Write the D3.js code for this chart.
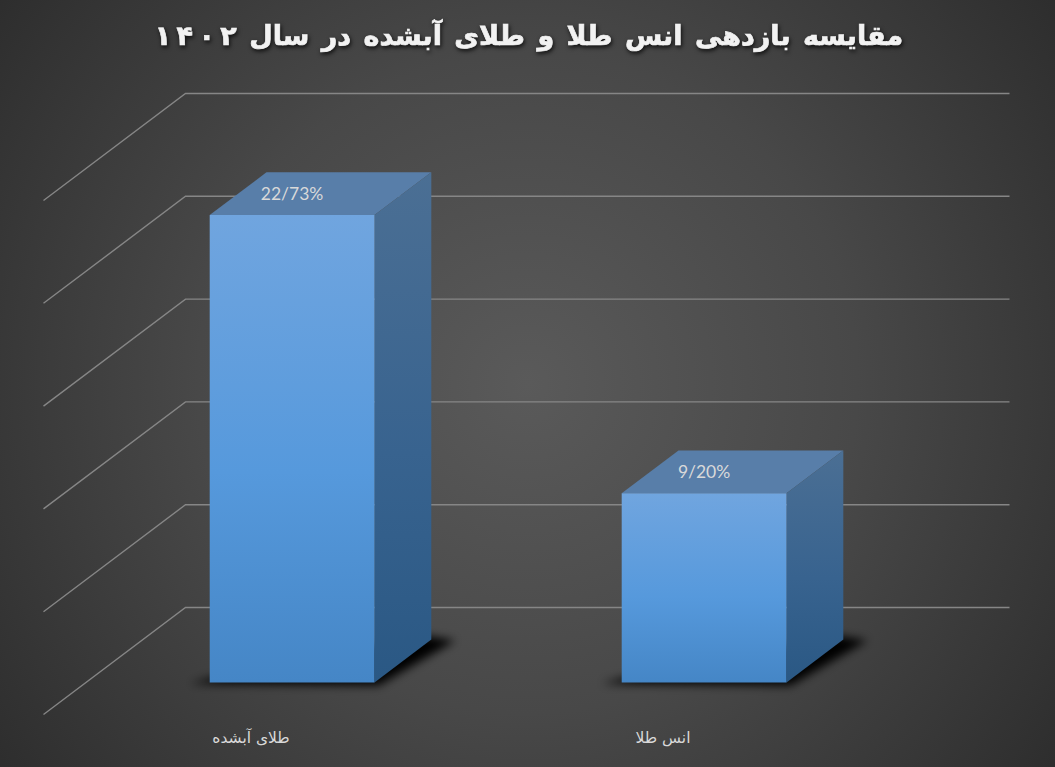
<!DOCTYPE html>
<html lang="fa">
<head>
<meta charset="utf-8">
<script src="https://cdn.jsdelivr.net/npm/d3@7/dist/d3.min.js"></script>
<style>
html,body{margin:0;padding:0;background:#3a3a3a;overflow:hidden}
svg{display:block}
</style>
</head>
<body>
<svg id="chart" width="1055" height="767"></svg>
<script>
const chartTitle = "مقایسه بازدهی انس طلا و طلای آبشده در سال \u2066۱\u2009۴\u2009۰\u2009۲\u2069";
const categories = ["طلای آبشده", "انس طلا"];
const seriesValues = [22.73, 9.20];
const valueLabels = ["22/73%", "9/20%"];
const axisDomain = [0, 25];
const tickCount = 5;

const W = 1055, H = 767;
const svg = d3.select("#chart");
const defs = svg.append("defs");

const bg = defs.append("radialGradient").attr("id", "bg")
  .attr("gradientUnits", "userSpaceOnUse")
  .attr("cx", W / 2).attr("cy", H / 2).attr("r", 660);
bg.append("stop").attr("offset", "0").attr("stop-color", "#5a5a5a");
bg.append("stop").attr("offset", "0.5").attr("stop-color", "#484848");
bg.append("stop").attr("offset", "1").attr("stop-color", "#2d2d2d");

function grad(id, a, b, c) {
  const g = defs.append("linearGradient").attr("id", id)
    .attr("x1", 0).attr("y1", 0).attr("x2", 0).attr("y2", 1);
  g.append("stop").attr("offset", "0").attr("stop-color", a);
  g.append("stop").attr("offset", "0.55").attr("stop-color", b);
  g.append("stop").attr("offset", "1").attr("stop-color", c);
}
grad("front", "#70a5df", "#5699dc", "#4586c6");
grad("side", "#4b6f94", "#38638f", "#2a5884");

defs.append("filter").attr("id", "blur")
  .attr("x", "-20%").attr("y", "-60%").attr("width", "140%").attr("height", "220%")
  .append("feGaussianBlur").attr("stdDeviation", 5);

svg.append("rect").attr("width", W).attr("height", H).attr("fill", "url(#bg)");

// oblique chart space: x along the floor front, y up the wall, z into the depth
const x = d3.scaleBand().domain(categories).range([43.5, 867.5]).paddingInner(0).paddingOuter(0);
const y = d3.scaleLinear().domain(axisDomain).range([714.5, 200.5]);
const zx = d3.scaleLinear().domain([0, 1]).range([0, 142]);
const zy = d3.scaleLinear().domain([0, 1]).range([0, -107]);
const project = (px, val, z) => [px + zx(z), y(val) + zy(z)];
const path = pts => "M" + pts.map(p => p.join(",")).join("L") + "Z";

const ticks = y.ticks(tickCount);
const grid = svg.append("g").attr("fill", "none").attr("stroke", "#868686").attr("stroke-width", 1.4);
grid.selectAll("path").data(ticks).join("path")
  .attr("d", t => {
    const a = project(x.range()[0], t, 0), b = project(x.range()[0], t, 1), c = project(x.range()[1], t, 1);
    return `M${a}L${b}L${c}`;
  });

const zFront = 0.3, zBack = 0.7, barFrac = 0.4;
const rows = categories.map((c, i) => {
  const bw = x.bandwidth() * barFrac;
  const x0 = x(c) + (x.bandwidth() - bw) / 2;
  return { c, v: seriesValues[i], label: valueLabels[i], x0, x1: x0 + bw };
});

const bars = svg.selectAll("g.bar").data(rows).join("g").attr("class", "bar");

bars.append("path")
  .attr("d", d => {
    const a = project(d.x0, 0, zFront), b = project(d.x1, 0, zFront), c = project(d.x1, 0, zBack);
    return path([
      [a[0] - 20, a[1] + 1],
      [b[0] + 4, b[1] + 3],
      [c[0] + 24, c[1] + 1],
      [c[0] - 8, c[1] - 4],
      [a[0] + 8, a[1] - 6]
    ]);
  })
  .attr("fill", "#050505").attr("filter", "url(#blur)");

bars.append("path").attr("fill", "#587ea9")
  .attr("d", d => path([project(d.x0, d.v, zFront), project(d.x1, d.v, zFront), project(d.x1, d.v, zBack), project(d.x0, d.v, zBack)]));
bars.append("path").attr("fill", "url(#side)")
  .attr("d", d => path([project(d.x1, d.v, zFront), project(d.x1, d.v, zBack), project(d.x1, 0, zBack), project(d.x1, 0, zFront)]));
bars.append("path").attr("fill", "url(#front)")
  .attr("d", d => path([project(d.x0, d.v, zFront), project(d.x1, d.v, zFront), project(d.x1, 0, zFront), project(d.x0, 0, zFront)]));

bars.append("text")
  .attr("x", d => (d.x0 + d.x1) / 2 + zx(zFront))
  .attr("y", d => project(d.x0, d.v, zFront)[1] - 15)
  .attr("text-anchor", "middle")
  .attr("font-family", "Lato, 'Open Sans', sans-serif")
  .attr("font-size", 17.5).attr("fill", "#d9d9d9")
  .text(d => d.label);

svg.selectAll("text.cat").data(rows).join("text").attr("class", "cat")
  .attr("x", d => (d.x0 + d.x1) / 2 + 1.5)
  .attr("y", 743)
  .attr("text-anchor", "middle").attr("direction", "rtl")
  .attr("font-family", "'DejaVu Sans', sans-serif")
  .attr("font-size", 15.5).attr("fill", "#d9d9d9")
  .text(d => d.c);

svg.append("text")
  .attr("x", 529).attr("y", 45)
  .attr("text-anchor", "middle").attr("direction", "rtl")
  .attr("font-family", "'DejaVu Sans', sans-serif")
  .attr("font-weight", "bold").attr("font-size", 27).attr("fill", "#f2f2f2")
  .attr("stroke", "#f2f2f2").attr("stroke-width", 0.7)
  .attr("word-spacing", 3)
  .style("filter", "drop-shadow(1px 2px 2px rgba(0,0,0,.8))")
  .text(chartTitle);
</script>
</body>
</html>
